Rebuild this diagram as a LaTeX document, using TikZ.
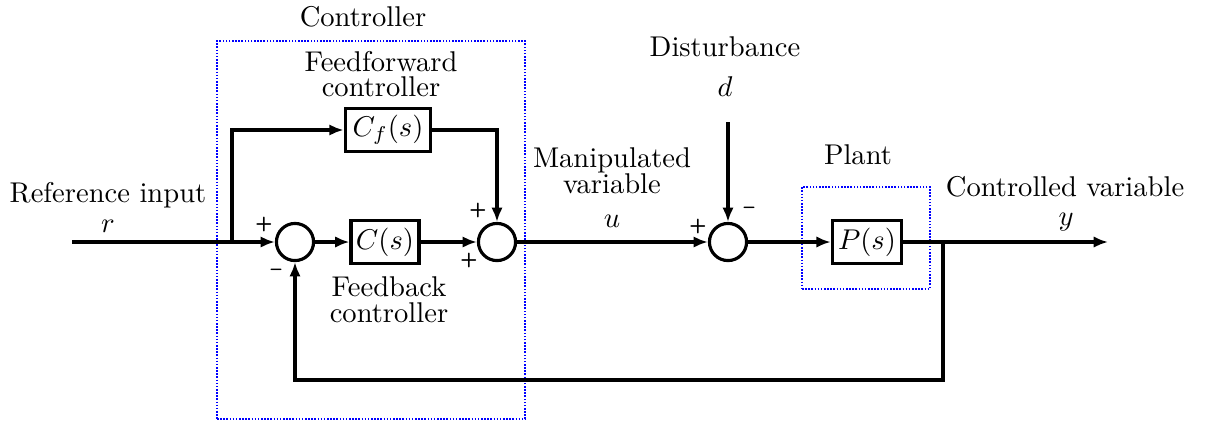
\documentclass[tikz,border=0pt]{standalone}
\usetikzlibrary{arrows.meta}
\begin{document}
\begin{tikzpicture}[x=0.35pt,y=-0.35pt,
  line width=1.1pt,
  >={Latex[length=5pt,width=4pt]},
  sumnode/.style={draw,circle,inner sep=0pt,minimum size=13pt},
  blk/.style={draw,rectangle,inner sep=0pt,minimum height=14.8pt},
  lbl/.style={align=center,inner sep=0pt,font=\fontsize{10}{10}\selectfont},
  sgn/.style={inner sep=0pt,font=\fontsize{7}{7}\sffamily\bfseries\selectfont},
  grp/.style={draw=blue,line width=0.5pt,dash pattern=on 0.55pt off 0.55pt}]
\useasboundingbox (0,0) rectangle (1211,424);
% groups
\node[grp,minimum width=308*0.35pt,minimum height=378*0.35pt,inner sep=0pt] (ctrlbox) at (371,230) {};
\node[grp,minimum width=128*0.35pt,minimum height=102*0.35pt,inner sep=0pt] (plantbox) at (866,238) {};
% blocks
\node[sumnode] (s1) at (295,242) {};
\node[blk,minimum width=23.8pt] (C) at (385,242) {$C(s)$};
\node[blk,minimum width=30pt] (Cf) at (388,130) {$C_f(s)$};
\node[sumnode] (s2) at (497,242) {};
\node[sumnode] (s3) at (728,242) {};
\node[blk,minimum width=24.3pt] (P) at (867,242) {$P(s)$};
% coordinates
\coordinate (in) at (72,242);
\coordinate (br) at (232,242);
\coordinate (dst) at (728,122);
\coordinate (out) at (1108,242);
\coordinate (fb) at (943,242);
\coordinate (fbc) at (943,380);
% connectors
\draw[->] (in) -- (s1);
\draw[->] (br) |- (Cf);
\draw[->] (s1) -- (C);
\draw[->] (C) -- (s2);
\draw[->] (Cf) -| (s2);
\draw[->] (s2) -- (s3);
\draw[->] (dst) -- (s3);
\draw[->] (s3) -- (P);
\draw[->] (P) -- (out);
\draw[->] (fb) -- (fbc) -| (s1);
% labels
\node[lbl] (tctrl) at (363,17) {Controller};
\node[lbl] (tff) at (381,74) {Feedforward\\[-1pt]controller};
\node[lbl] (tfb) at (389,300) {Feedback\\[-1pt]controller};
\node[lbl] (tref) at (108,195) {Reference input};
\node[lbl] (tr) at (108,226) {$r$};
\node[lbl] (tman) at (612,171) {Manipulated\\[-1pt]variable};
\node[lbl] (tu) at (612,221) {$u$};
\node[lbl] (tdist) at (725,47) {Disturbance};
\node[lbl] (td) at (725,87) {$d$};
\node[lbl] (tplant) at (858,155) {Plant};
\node[lbl] (tcv) at (1065,187) {Controlled variable};
\node[lbl] (ty) at (1066,222) {$y$};
% signs
\node[sgn] (p1) at (264,224) {+};
\node[sgn] (m1) at (276,272) {--};
\node[sgn] (p2) at (478,210) {+};
\node[sgn] (p3) at (469,260) {+};
\node[sgn] (p4) at (698,226) {+};
\node[sgn] (m3) at (749,210) {--};
\end{tikzpicture}
\end{document}
